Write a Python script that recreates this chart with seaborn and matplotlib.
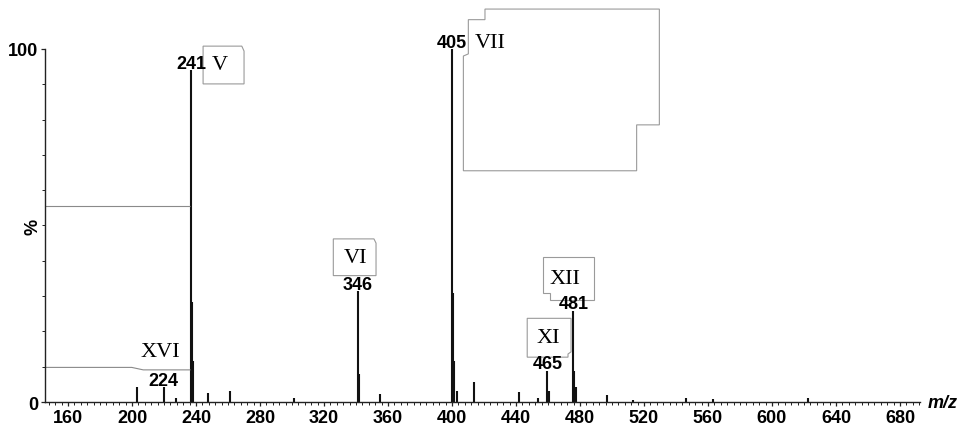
import matplotlib
matplotlib.use("Agg")
import matplotlib.pyplot as plt
from matplotlib.patches import Polygon
from matplotlib.ticker import MultipleLocator, FixedLocator
import seaborn as sns

# mass spectrum sticks (m/z as drawn on the axis, relative intensity %)
mz = [203, 219.7, 227.5, 236.9, 237.6, 238.3, 247.5, 261, 301,
      341, 342, 355, 399.8, 400.8, 401.4, 403, 413.8, 442,
      453.8, 459.6, 460.4, 475.8, 476.4, 477.3, 497, 513, 546, 563, 622.5]
intensity = [4.2, 4.2, 1.1, 94.0, 28.4, 11.6, 2.5, 3.1, 1.0,
             31.5, 8.0, 2.3, 100.0, 31.0, 11.7, 3.0, 5.7, 2.8,
             1.0, 8.9, 3.2, 25.9, 8.9, 4.3, 2.0, 0.5, 1.0, 0.8, 1.0]

# labelled peaks: position, height, mass label
peak_x = [219.7, 236.9, 341, 399.8, 459.6, 475.8]
peak_h = [4.2, 94.0, 31.5, 100.0, 8.9, 25.9]
peak_labels = ["224", "241", "346", "405", "465", "481"]

# compound annotations (roman numerals) and where they sit
roman = ["XVI", "V", "VI", "VII", "XI", "XII"]
roman_x = [217.5, 255, 339.4, 424, 460.2, 470.6]
roman_y = [14.2, 95.5, 41.0, 101.9, 18.3, 35.0]

# outlines of the annotation boxes left in the original figure
box_v = [(244.4, 90.1), (270, 90.1), (270, 99.4), (268.6, 100.8), (244.4, 100.8)]
box_vi = [(325.8, 35.8), (352.5, 35.8), (352.5, 45.0), (351.2, 46.2), (325.8, 46.2)]
box_xi = [(447, 12.7), (472.5, 12.7), (472.5, 13.6), (474.4, 14.2), (474.4, 23.7), (447, 23.7)]
box_xii = [(457, 30.9), (461.5, 30.9), (461.5, 28.8), (489, 28.8), (489, 41.0), (457, 41.0)]
box_vii = [(407.1, 65.5), (515.4, 65.5), (515.4, 78.5), (529.6, 78.5), (529.6, 111.3),
           (420.6, 111.3), (420.6, 108.3), (410.2, 108.3), (410.2, 98.6), (407.1, 98.0)]
leader_y = [55.5]
leader2_x = [145.6, 199.8, 207, 236.3]
leader2_y = [9.8, 9.8, 9.1, 9.1]

sns.set_style("ticks")
plt.rcParams["font.family"] = ["Liberation Sans", "DejaVu Sans"]

fig = plt.figure(figsize=(9.58, 4.27), dpi=100)
ax = fig.add_axes([0.047, 0.0562, 0.9133, 0.8268])

ax.vlines(mz, 0, intensity, color="#111111", lw=1.5)

# leftover connector lines from the annotation boxes
ax.hlines(leader_y, 145.6, 236.3, color="#8a8a8a", lw=0.8)
ax.plot(leader2_x, leader2_y, color="#8a8a8a", lw=0.8)

for pts in [box_v, box_vi, box_xi, box_xii, box_vii]:
    ax.add_patch(Polygon(pts, closed=True, facecolor="white", edgecolor="#9a9a9a",
                         lw=0.8, clip_on=False, zorder=3))

for x, h, s in zip(peak_x, peak_h, peak_labels):
    ax.text(x, h - 0.5, s, ha="center", va="bottom", fontsize=13,
            fontweight="bold", color="black", zorder=4)

for x, y, s in zip(roman_x, roman_y, roman):
    ax.text(x, y, s, ha="center", va="center", fontsize=16, color="black",
            family="Liberation Serif", zorder=5,
            bbox=dict(facecolor="white", edgecolor="none", pad=0.5) if s == "XVI" else None)

ax.set_xlim(145.6, 692.5)
ax.set_ylim(0, 100)
ax.xaxis.set_major_locator(FixedLocator(list(range(160, 681, 40))))
ax.xaxis.set_minor_locator(MultipleLocator(4))
ax.yaxis.set_major_locator(FixedLocator([0, 100]))
ax.yaxis.set_minor_locator(MultipleLocator(10))
ax.tick_params(axis="both", which="major", length=3, width=0.9, pad=2,
               labelsize=13, color="#222222", labelcolor="black")
ax.tick_params(axis="both", which="minor", length=2, width=0.7, color="#222222")
for lab in ax.get_xticklabels() + ax.get_yticklabels():
    lab.set_fontweight("bold")

sns.despine(ax=ax)
for sp in ["left", "bottom"]:
    ax.spines[sp].set_linewidth(1.0)
    ax.spines[sp].set_color("#222222")

ax.set_ylabel("%", fontsize=13, fontweight="bold", color="black")
ax.yaxis.set_label_coords(-0.004, 0.5)
ax.text(1.009, 0.0, "m/z", transform=ax.transAxes, ha="left", va="center",
        fontsize=13, fontweight="bold", style="italic", color="black")

fig.savefig("out.png", dpi=100)
